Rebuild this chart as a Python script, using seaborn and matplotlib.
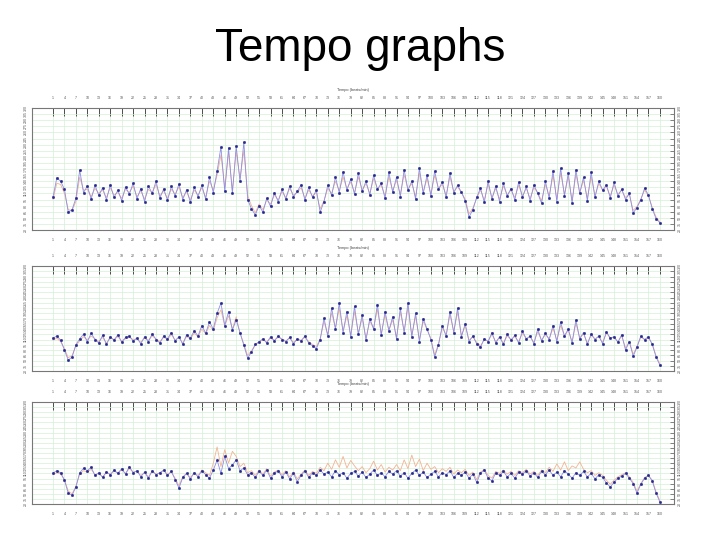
import numpy as np
import pandas as pd
import seaborn as sns
import matplotlib.pyplot as plt

# measure index shared by all three panels
measures = list(range(1, 161))
panel_titles = ["Tempo (beats/min)", "Tempo (beats/min)", "Tempo (beats/min)"]

# panel 1
perf1 = [101, 148, 140, 120, 64, 70, 98, 167, 112, 128,
         96, 130, 105, 124, 94, 131, 100, 118, 92, 126,
         108, 135, 97, 122, 90, 128, 110, 140, 99, 121,
         93, 127, 104, 133, 95, 119, 88, 125, 102, 130,
         96, 150, 112, 165, 224, 115, 222, 110, 226, 140,
         236, 95, 72, 57, 80, 64, 98, 78, 112, 90,
         120, 96, 128, 102, 115, 131, 94, 125, 100, 118,
         64, 90, 130, 105, 150, 112, 163, 118, 145, 108,
         160, 115, 140, 106, 155, 120, 135, 98, 162, 113,
         150, 102, 168, 118, 140, 96, 172, 110, 155, 104,
         165, 120, 138, 100, 160, 112, 130, 113, 92, 52,
         70, 100, 123, 88, 140, 96, 128, 90, 135, 104,
         122, 94, 138, 100, 127, 92, 131, 110, 86, 140,
         98, 165, 90, 172, 104, 160, 86, 168, 110, 150,
         92, 162, 100, 140, 118, 131, 99, 137, 104, 120,
         95, 110, 62, 75, 94, 123, 106, 72, 48, 38]
ref1 = [95, 135, 132, 110, 70, 68, 90, 150, 118, 120,
        102, 122, 110, 118, 100, 124, 106, 112, 98, 120,
        112, 128, 102, 116, 96, 120, 112, 132, 104, 116,
        98, 120, 108, 126, 100, 114, 94, 118, 106, 124,
        100, 140, 118, 155, 205, 125, 210, 118, 212, 145,
        215, 105, 80, 62, 84, 70, 94, 84, 106, 94,
        114, 100, 122, 106, 112, 124, 98, 118, 104, 112,
        72, 92, 122, 110, 140, 116, 150, 122, 138, 112,
        150, 118, 134, 110, 146, 122, 130, 104, 150, 116,
        142, 108, 156, 120, 134, 102, 160, 114, 146, 108,
        154, 122, 132, 106, 150, 114, 126, 112, 96, 60,
        74, 98, 118, 94, 132, 100, 122, 96, 128, 106,
        118, 100, 130, 104, 122, 98, 124, 112, 92, 132,
        104, 154, 96, 160, 108, 150, 92, 156, 112, 142,
        98, 150, 104, 134, 118, 126, 104, 130, 108, 118,
        100, 108, 68, 78, 96, 118, 104, 76, 52, 40]

# panel 2
perf2 = [114, 120, 108, 80, 51, 60, 95, 112, 125, 104,
         128, 110, 100, 122, 96, 118, 108, 124, 102, 116,
         120, 106, 114, 98, 118, 104, 126, 110, 100, 120,
         112, 130, 106, 118, 96, 124, 114, 135, 120, 150,
         128, 160, 140, 185, 214, 150, 190, 137, 166, 130,
         95, 57, 74, 96, 104, 112, 100, 118, 106, 120,
         110, 104, 116, 98, 112, 106, 120, 100, 92, 84,
         110, 171, 120, 200, 140, 214, 130, 190, 118, 205,
         125, 180, 108, 170, 140, 210, 122, 190, 135, 175,
         112, 200, 130, 214, 118, 185, 104, 170, 140, 110,
         60, 95, 150, 120, 190, 130, 200, 118, 155, 104,
         120, 98, 88, 112, 104, 130, 100, 118, 96, 126,
         108, 122, 100, 134, 112, 120, 98, 140, 106, 128,
         110, 150, 104, 160, 120, 140, 100, 166, 112, 130,
         96, 126, 110, 120, 98, 132, 114, 118, 102, 124,
         80, 104, 62, 88, 120, 110, 118, 96, 60, 37]
ref2 = [108, 114, 104, 84, 58, 64, 92, 106, 118, 108,
        120, 112, 104, 116, 100, 114, 110, 118, 106, 112,
        116, 110, 112, 102, 114, 108, 120, 112, 104, 116,
        110, 124, 108, 116, 100, 118, 112, 128, 118, 140,
        126, 150, 136, 172, 195, 148, 178, 140, 175, 128,
        98, 64, 78, 94, 102, 110, 104, 114, 108, 116,
        112, 106, 114, 102, 110, 108, 116, 104, 96, 90,
        112, 160, 124, 186, 142, 198, 134, 178, 122, 190,
        128, 170, 114, 162, 142, 196, 126, 180, 136, 166,
        116, 188, 134, 200, 122, 176, 110, 162, 138, 114,
        66, 98, 144, 122, 180, 132, 188, 120, 150, 108,
        118, 102, 92, 110, 106, 124, 104, 116, 100, 120,
        110, 118, 104, 128, 112, 118, 102, 132, 108, 124,
        112, 142, 108, 150, 120, 136, 104, 156, 114, 126,
        100, 122, 112, 118, 102, 128, 114, 116, 104, 120,
        86, 104, 68, 90, 116, 110, 114, 98, 64, 40]

# panel 3
perf3 = [111, 118, 112, 90, 52, 46, 70, 112, 125, 118,
         128, 104, 112, 98, 115, 106, 120, 110, 124, 108,
         130, 112, 118, 100, 114, 96, 118, 106, 112, 120,
         104, 116, 92, 67, 98, 110, 94, 112, 100, 118,
         106, 96, 120, 149, 110, 160, 124, 135, 150, 118,
         126, 106, 112, 98, 116, 104, 120, 96, 110, 118,
         100, 114, 94, 110, 86, 104, 118, 98, 112, 104,
         120, 108, 114, 100, 118, 106, 112, 96, 110, 116,
         102, 114, 98, 108, 120, 104, 112, 100, 116, 108,
         118, 102, 112, 96, 110, 120, 104, 114, 98, 108,
         116, 100, 112, 106, 118, 98, 110, 104, 114, 96,
         108, 84, 110, 120, 96, 88, 112, 104, 116, 100,
         110, 96, 114, 108, 118, 102, 112, 98, 116, 106,
         120, 104, 114, 100, 118, 108, 96, 112, 104, 116,
         100, 110, 94, 106, 98, 82, 70, 84, 96, 102,
         110, 96, 80, 52, 78, 96, 104, 88, 52, 26]
ref3 = [106, 112, 108, 92, 58, 50, 72, 108, 118, 114,
        122, 106, 110, 100, 112, 108, 116, 112, 120, 110,
        124, 114, 116, 104, 112, 100, 116, 108, 112, 118,
        108, 114, 96, 74, 100, 110, 98, 112, 104, 120,
        112, 104, 140, 188, 130, 180, 140, 175, 160, 130,
        140, 112, 118, 104, 120, 108, 124, 102, 114, 120,
        106, 118, 100, 114, 94, 108, 120, 104, 116, 110,
        128, 118, 140, 122, 150, 128, 160, 126, 148, 132,
        118, 130, 112, 124, 146, 120, 136, 114, 128, 120,
        136, 118, 150, 124, 164, 130, 152, 118, 140, 122,
        130, 112, 124, 116, 128, 108, 120, 112, 122, 104,
        114, 92, 114, 122, 104, 96, 116, 110, 120, 108,
        116, 104, 118, 112, 122, 108, 116, 104, 120, 112,
        128, 116, 138, 120, 144, 118, 132, 126, 144, 122,
        112, 118, 104, 112, 104, 90, 78, 90, 100, 106,
        112, 100, 84, 58, 80, 98, 104, 90, 56, 30]

panels = [(perf1, ref1), (perf2, ref2), (perf3, ref3)]

sns.set_style("white")
plt.rcParams['font.family'] = ['Liberation Sans', 'DejaVu Sans']

fig = plt.figure(figsize=(7.2, 5.4), dpi=100)
fig.text(0.5, 1 - 49 / 540, "Tempo graphs", ha="center", va="center",
         fontsize=33, color="black")

# axes boxes in pixels: left, top, right, bottom
boxes = [(32, 108, 674, 230), (32, 266, 674, 371), (32, 402, 674, 504)]

xticks = np.arange(1, 161, 3)
yticks = np.arange(20, 321, 15)

for (perf, ref), title, (l, t, r, b) in zip(panels, panel_titles, boxes):
    ax = fig.add_axes([l / 720, 1 - b / 540, (r - l) / 720, (b - t) / 540])
    df = pd.DataFrame({"measure": measures, "perf": perf, "ref": ref})
    sns.lineplot(data=df, x="measure", y="ref", ax=ax, color="#f3b393", lw=0.6)
    sns.lineplot(data=df, x="measure", y="perf", ax=ax, color="#8e8ee8", lw=0.6,
                 marker="s", markersize=1.1, markerfacecolor="#26268c",
                 markeredgecolor="#26268c")
    ax.set_xlim(-4.5, 163.7)
    ax.set_ylim(20, 320)
    ax.set_xticks(xticks)
    ax.set_xticklabels([str(m) for m in xticks])
    ax.set_yticks(yticks)
    ax.set_yticklabels([str(v) for v in yticks], rotation=90, va="center")
    ax.tick_params(axis="x", direction="in", length=6, width=0.6, top=True,
                   labeltop=True, labelsize=2.6, pad=6, color="#333333",
                   labelcolor="#555555")
    ax.tick_params(axis="y", direction="in", length=3, width=0.5, right=True,
                   labelright=True, labelsize=2.6, pad=3, color="#555555",
                   labelcolor="#555555")
    ax.grid(True, color="#d4efd4", lw=0.5)
    for s in ax.spines.values():
        s.set_color("#777777")
        s.set_linewidth(0.8)
    ax.set_xlabel("")
    ax.set_ylabel("")
    ax.set_title(title, fontsize=2.8, pad=12, color="#444444")

fig.savefig("out.png", dpi=100)
